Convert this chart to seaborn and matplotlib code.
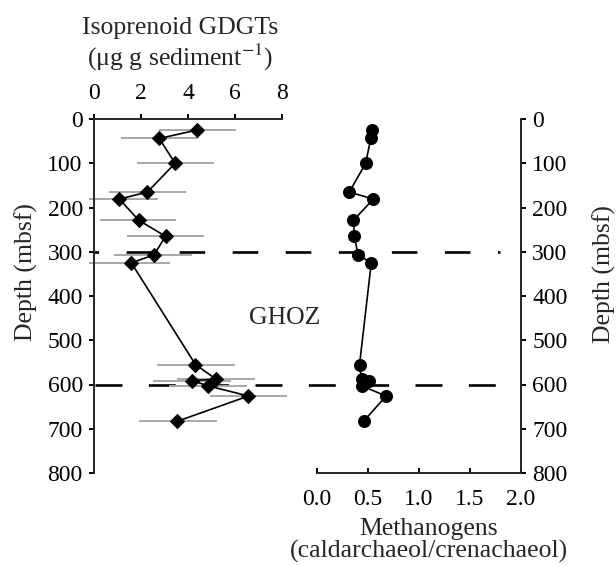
import numpy as np
import matplotlib
matplotlib.use("Agg")
import matplotlib.pyplot as plt
import seaborn as sns

# depth of each sample (mbsf), shared by both profiles
depth = [25, 44, 100, 165, 181, 229, 265, 307, 325, 555, 588, 591, 603, 626, 683]
# isoprenoid GDGTs (ug g sediment-1) and error bar ends
gdgt = [4.38, 2.77, 3.45, 2.27, 1.07, 1.90, 3.04, 2.55, 1.58, 4.32, 5.20, 4.18, 4.85, 6.58, 3.55]
gdgt_lo = [2.75, 1.14, 1.81, 0.61, -0.22, 0.24, 1.38, 0.85, -0.22, 2.67, 3.55, 2.52, 3.20, 4.94, 1.92]
gdgt_hi = [6.04, 4.42, 5.12, 3.92, 2.73, 3.50, 4.70, 4.16, 3.24, 6.00, 6.85, 5.83, 6.50, 8.22, 5.23]
# methanogens (caldarchaeol/crenachaeol)
ratio = [0.54, 0.53, 0.48, 0.32, 0.555, 0.36, 0.37, 0.405, 0.535, 0.42, 0.44, 0.51, 0.44, 0.68, 0.46]
# GHOZ boundaries
zone_top = 300
zone_bottom = 600

gdgt_ticks = [0, 2, 4, 6, 8]
ratio_ticks = [0.0, 0.5, 1.0, 1.5, 2.0]
ratio_labels = ["0.0", "0.5", "1.0", "1.5", "2.0"]
depth_ticks = [0, 100, 200, 300, 400, 500, 600, 700, 800]

sns.set_style("ticks")
plt.rcParams["font.family"] = ["Liberation Serif", "DejaVu Serif"]
plt.rcParams["mathtext.fontset"] = "stix"
plt.rcParams["lines.scale_dashes"] = False

W, H = 616, 566
fig = plt.figure(figsize=(W / 100, H / 100), dpi=100)


def box(x0, x1, y0, y1):
    # pixel box -> figure fraction
    return [x0 / W, 1 - y1 / H, (x1 - x0) / W, (y1 - y0) / H]


ax_bg = fig.add_axes(box(94.3, 520.7, 119, 473))
ax1 = fig.add_axes(box(94.3, 281.7, 119, 473))
ax2 = fig.add_axes(box(316.7, 520.7, 119, 473))
for a in (ax_bg, ax1, ax2):
    a.set_ylim(800, 0)
    a.patch.set_alpha(0)

tick_fs = 17
label_fs = 18.5

# dashed GHOZ boundaries
ax_bg.axis("off")
ax_bg.set_xlim(0, 1)
ax_bg.axhline(zone_top, xmin=0, xmax=0.951, color="black", lw=1.9,
              linestyle=(15.1, (18.4, 19.8)))
ax_bg.axhline(zone_bottom, xmin=0.002, xmax=0.951, color="black", lw=1.9,
              linestyle=(0, (19.4, 19.0)))

# left profile
gd = np.array(gdgt)
eb = ax1.errorbar(gd, depth, xerr=[gd - np.array(gdgt_lo), np.array(gdgt_hi) - gd],
                  fmt="none", ecolor="#a8a8a8", elinewidth=1.4, capsize=0, zorder=2)
for c in eb.lines[2]:
    c.set_clip_on(False)
sns.lineplot(x=gdgt, y=depth, orient="y", estimator=None, ax=ax1,
             color="black", linewidth=1.2, marker="D", markersize=6.8,
             markerfacecolor="black", markeredgecolor="black", zorder=3)
ax1.set_xlim(0, 8)
ax1.set_xticks(gdgt_ticks)
ax1.set_yticks(depth_ticks)
ax1.xaxis.tick_top()
ax1.xaxis.set_label_position("top")
for s in ["right", "bottom"]:
    ax1.spines[s].set_visible(False)
for s in ["top", "left"]:
    ax1.spines[s].set_linewidth(1.4)
ax1.tick_params(axis="both", direction="out", length=3.8, width=1.4,
                labelsize=tick_fs, colors="black")
ax1.tick_params(axis="x", pad=7)
ax1.tick_params(axis="y", pad=4.5)
ax1.set_xlabel("Isoprenoid GDGTs\n(\u03bcg g sediment$^{-1}$)", fontsize=label_fs,
               linespacing=1.15)
ax1.xaxis.set_label_coords(0.457, 1.15)
ax1.set_ylabel("Depth (mbsf)", fontsize=label_fs)
ax1.yaxis.set_label_coords(-0.30, 0.568)
ax1.text(8.13, 450, "GHOZ", ha="center", va="center", fontsize=label_fs)

# right profile
sns.lineplot(x=ratio, y=depth, orient="y", estimator=None, ax=ax2,
             color="black", linewidth=1.2, marker="o", markersize=8.6,
             markerfacecolor="black", markeredgecolor="black", zorder=3)
ax2.set_xlim(0, 2)
ax2.set_xticks(ratio_ticks)
ax2.set_xticklabels(ratio_labels)
ax2.set_yticks(depth_ticks)
ax2.yaxis.tick_right()
ax2.yaxis.set_label_position("right")
for s in ["left", "top"]:
    ax2.spines[s].set_visible(False)
for s in ["bottom", "right"]:
    ax2.spines[s].set_linewidth(1.4)
ax2.tick_params(axis="x", direction="in", length=3.8, width=1.4, pad=11.5,
                labelsize=tick_fs, colors="black")
ax2.tick_params(axis="y", direction="out", length=3.8, width=1.4, pad=4.5,
                labelsize=tick_fs, colors="black")
ax2.set_xlabel("Methanogens\n(caldarchaeol/crenachaeol)", fontsize=label_fs,
               linespacing=1.0)
ax2.xaxis.set_label_coords(0.55, -0.128)
ax2.set_ylabel("Depth (mbsf)", fontsize=label_fs)
ax2.yaxis.set_label_coords(1.354, 0.563)

fig.savefig("out.png", dpi=100)
